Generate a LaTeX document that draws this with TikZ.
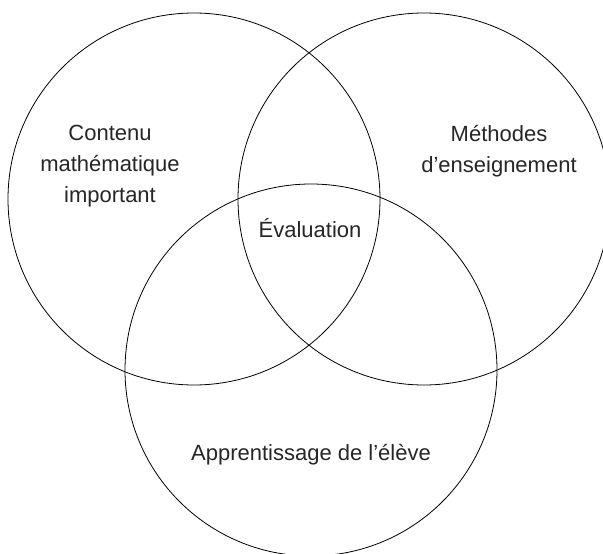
\documentclass[tikz,border=0pt]{standalone}
\usepackage{fontspec}
\setmainfont{Liberation Sans}
\begin{document}
\begin{tikzpicture}[x=1pt,y=-1pt,
    setline/.style={draw=black,line width=0.8pt},
    lab/.style={align=center,text=black!85,font=\fontsize{22}{31}\selectfont}]
  \useasboundingbox (0,0) rectangle (603,554);
  \clip (0,0) rectangle (603,554);
  % the three sets
  \draw[setline] (194,199) circle [radius=186pt];
  \draw[setline] (424,199) circle [radius=186pt];
  \draw[setline] (311,370) circle [radius=186pt];
  % labels
  \node[lab] (contenu) at (110,166) {Contenu\\mathématique\\important};
  \node[lab] (methodes) at (499,151) {Méthodes\\d’enseignement};
  \node[lab] (evaluation) at (310,228) {Évaluation};
  \node[lab] (apprentissage) at (311,455) {Apprentissage de l’élève};
\end{tikzpicture}
\end{document}
